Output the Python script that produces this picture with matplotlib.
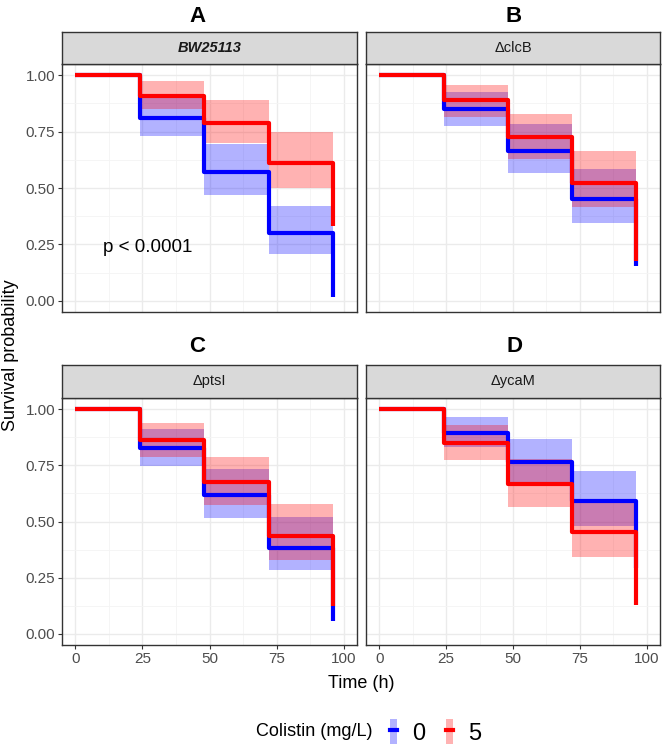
import numpy as np
import matplotlib.pyplot as plt
from matplotlib.patches import Patch
from matplotlib.lines import Line2D

plt.rcParams['font.family'] = ['Liberation Sans', 'DejaVu Sans']

# step times (h)
times = [0, 24, 48, 72, 96]

panels = ['A', 'B', 'C', 'D']
strains = ['BW25113', '\u0394clcB', '\u0394ptsI', '\u0394ycaM']

# survival estimates per panel: colistin 0 and 5 mg/L
surv_0 = {
    'A': [1.0, 0.811, 0.569, 0.300, 0.015],
    'B': [1.0, 0.850, 0.664, 0.450, 0.152],
    'C': [1.0, 0.827, 0.616, 0.382, 0.056],
    'D': [1.0, 0.896, 0.764, 0.592, 0.293],
}
surv_5 = {
    'A': [1.0, 0.909, 0.789, 0.612, 0.332],
    'B': [1.0, 0.889, 0.724, 0.523, 0.175],
    'C': [1.0, 0.864, 0.674, 0.437, 0.123],
    'D': [1.0, 0.849, 0.667, 0.452, 0.127],
}
# confidence bands for the 24-48, 48-72, 72-96 steps
lo_0 = {'A': [0.731, 0.469, 0.208], 'B': [0.774, 0.566, 0.344],
        'C': [0.745, 0.516, 0.286], 'D': [0.830, 0.664, 0.478]}
hi_0 = {'A': [0.904, 0.693, 0.422], 'B': [0.926, 0.782, 0.584],
        'C': [0.911, 0.735, 0.518], 'D': [0.964, 0.867, 0.727]}
lo_5 = {'A': [0.850, 0.698, 0.499], 'B': [0.816, 0.627, 0.415],
        'C': [0.789, 0.575, 0.330], 'D': [0.775, 0.564, 0.342]}
hi_5 = {'A': [0.973, 0.889, 0.749], 'B': [0.959, 0.830, 0.664],
        'C': [0.938, 0.789, 0.579], 'D': [0.930, 0.779, 0.594]}

doses = ['0', '5']
colors = {'0': '#0000FF', '5': '#FF0000'}

W, H = 666, 746
fig = plt.figure(figsize=(W / 100, H / 100), dpi=100)


def rect(x0, y0, x1, y1):
    return [x0 / W, 1 - y1 / H, (x1 - x0) / W, (y1 - y0) / H]


cols = [(62, 357), (366, 660)]
rows = [(32, 64, 312), (365, 398, 645)]
title_x = [197, 514]
title_y = [17, 347]

for i, p in enumerate(panels):
    r, c = divmod(i, 2)
    x0, x1 = cols[c]
    s0, s1, b = rows[r]
    ax = fig.add_axes(rect(x0, s1, x1, b))
    sax = fig.add_axes(rect(x0, s0, x1, s1))

    # strip
    sax.set_facecolor('#D9D9D9')
    sax.set_xticks([])
    sax.set_yticks([])
    for sp in sax.spines.values():
        sp.set_color('#333333')
        sp.set_linewidth(1.0)
    if p == 'A':
        sax.text(0.5, 0.5, strains[i], ha='center', va='center', fontsize=10.5,
                 fontweight='bold', fontstyle='italic', color='#1A1A1A')
    else:
        sax.text(0.5, 0.5, strains[i], ha='center', va='center', fontsize=10.5,
                 color='#1A1A1A')

    fig.text(title_x[c] / W, 1 - title_y[r] / H, p, ha='center', va='center',
             fontsize=16, fontweight='bold')

    # curves
    for d, lo, hi in [('0', lo_0, hi_0), ('5', lo_5, hi_5)]:
        ax.fill_between(times[1:], lo[p] + [lo[p][-1]], hi[p] + [hi[p][-1]],
                        step='post', color=colors[d], alpha=0.3, lw=0)
    for d, surv in [('0', surv_0), ('5', surv_5)]:
        ax.step(times, surv[p], where='post', color=colors[d], lw=3,
                solid_capstyle='butt', zorder=3)

    if p == 'A':
        ax.text(27, 0.234, 'p < 0.0001', ha='center', va='center', fontsize=13.5)

    ax.set_xlim(-5, 105)
    ax.set_ylim(-0.05, 1.05)
    ax.set_xticks([0, 25, 50, 75, 100])
    ax.set_yticks([0, 0.25, 0.5, 0.75, 1.0])
    ax.set_xticks([12.5, 37.5, 62.5, 87.5], minor=True)
    ax.set_yticks([0.125, 0.375, 0.625, 0.875], minor=True)
    ax.grid(which='major', color='#EBEBEB', lw=1.0)
    ax.grid(which='minor', color='#F4F4F4', lw=0.6)
    ax.set_axisbelow(True)
    ax.tick_params(which='minor', length=0)
    ax.tick_params(which='major', length=3, color='#333333', labelsize=11,
                   labelcolor='#4D4D4D', pad=2)
    for sp in ax.spines.values():
        sp.set_color('#333333')
        sp.set_linewidth(1.0)
    if c == 0:
        ax.set_yticklabels(['0.00', '0.25', '0.50', '0.75', '1.00'])
    else:
        ax.tick_params(axis='y', labelleft=False, length=0)
    if r == 1:
        ax.set_xticklabels(['0', '25', '50', '75', '100'])
    else:
        ax.tick_params(axis='x', labelbottom=False, length=0)

fig.text(361 / W, 1 - 683 / H, 'Time (h)', ha='center', va='center', fontsize=13)
fig.text(11 / W, 1 - 355 / H, 'Survival probability', ha='center', va='center',
         fontsize=13, rotation=90)

# legend
fig.text(314 / W, 1 - 732 / H, 'Colistin (mg/L)', ha='center', va='center', fontsize=13)
handles = [(Patch(facecolor=colors[d], alpha=0.3, lw=0),
            Line2D([], [], color=colors[d], lw=3)) for d in doses]
fig.legend(handles, doses, loc='center left', bbox_to_anchor=(390 / W, 1 - 732 / H),
           ncol=2, frameon=False, fontsize=17, handlelength=0.3, handleheight=1.2,
           handletextpad=0.65, columnspacing=0.85, borderpad=0, borderaxespad=0)

fig.savefig('out.png', dpi=100)
